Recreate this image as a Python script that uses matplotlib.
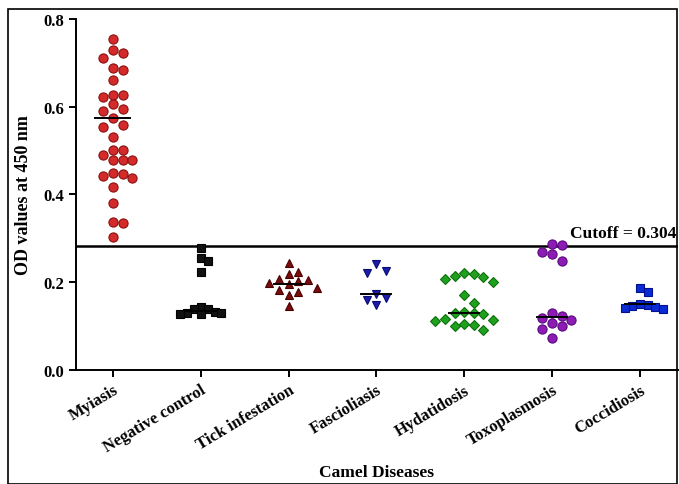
import numpy as np
import matplotlib.pyplot as plt
from matplotlib.patches import Rectangle

plt.rcParams['font.family'] = ['Liberation Serif', 'DejaVu Serif']
plt.rcParams['font.weight'] = 'bold'

diseases = ['Myiasis', 'Negative control', 'Tick infestation', 'Fascioliasis',
            'Hydatidosis', 'Toxoplasmosis', 'Coccidiosis']

myiasis = [0.754, 0.730, 0.722, 0.710, 0.688, 0.684, 0.661, 0.627, 0.622, 0.626,
           0.605, 0.595, 0.591, 0.575, 0.554, 0.559, 0.530, 0.501, 0.501, 0.490,
           0.479, 0.479, 0.479, 0.447, 0.438, 0.441, 0.449, 0.418, 0.380, 0.336,
           0.338, 0.304]
negative = [0.277, 0.256, 0.248, 0.223, 0.143, 0.140, 0.139, 0.133, 0.131, 0.129,
            0.128, 0.127]
tick = [0.243, 0.224, 0.219, 0.207, 0.205, 0.202, 0.199, 0.196, 0.186, 0.182,
        0.177, 0.170, 0.145]
fasciola = [0.242, 0.226, 0.222, 0.173, 0.165, 0.160, 0.148]
hydatid = [0.220, 0.218, 0.215, 0.212, 0.208, 0.200, 0.172, 0.153, 0.133, 0.131,
           0.130, 0.128, 0.117, 0.115, 0.112, 0.105, 0.103, 0.100, 0.092]
toxo = [0.287, 0.285, 0.270, 0.264, 0.248, 0.131, 0.122, 0.118, 0.115, 0.106,
        0.100, 0.093, 0.072]
cocci = [0.188, 0.178, 0.150, 0.148, 0.146, 0.144, 0.142, 0.140]

# group lines as drawn in the picture
medians = [0.575, 0.135, 0.196, 0.173, 0.131, 0.121, 0.150]

groups = [myiasis, negative, tick, fasciola, hydatid, toxo, cocci]
markers = ['o', 's', '^', 'v', 'D', 'o', 's']
faces = ['#d42a2a', '#111111', '#7a0c0c', '#1c1cae', '#1fa01f', '#8c1cb4', '#0a2ad2']
edges = ['#8a1010', '#000000', '#4a0000', '#0a0a70', '#0c700c', '#5a0a80', '#001090']
msizes = [6.6, 5.6, 6.2, 6.2, 5.0, 6.6, 5.6]
spread = [1.0, 0.72, 1.0, 1.0, 1.0, 1.0, 0.8]

cutoff_line = 0.283
cutoff_text = 'Cutoff = 0.304'

fig = plt.figure(figsize=(6.79, 4.85), dpi=100)
ax = fig.add_axes([0.112, 0.235, 0.886, 0.724])
ax.set_xlim(-0.42, 6.43)
ax.set_ylim(0, 0.8)

# pixels per unit, used to pack the points side by side
px_x = 88.0
px_y = 438.75


def swarm(vals, d=9.4, k_min=0.98):
    vals = np.asarray(vals)
    offs = np.zeros(len(vals))
    placed = []
    cand = [0]
    for k in range(1, 8):
        cand += [k, -k]
    for i in np.argsort(-vals):
        y = vals[i] * px_y
        for k in cand:
            x = k * d
            if all((x - a) ** 2 + (y - b) ** 2 >= (d * k_min) ** 2 for a, b in placed):
                break
        placed.append((x, y))
        offs[i] = x
    return offs / px_x


for i, vals in enumerate(groups):
    xs = i + swarm(vals, d=9.6 * spread[i])
    ax.plot(xs, vals, linestyle='none', marker=markers[i], ms=msizes[i],
            mfc=faces[i], mec=edges[i], mew=0.8, zorder=3)
    w = 0.2 if i == 0 else 0.17
    ax.plot([i - w, i + w], [medians[i], medians[i]], color='black', lw=1.4, zorder=4)

ax.axhline(cutoff_line, color='black', lw=1.8, zorder=2)
ax.text(6.41, cutoff_line + 0.012, cutoff_text, ha='right', va='bottom',
        fontsize=12.5, fontweight='bold')

ax.spines['top'].set_visible(False)
ax.spines['right'].set_visible(False)
ax.spines['left'].set_linewidth(1.4)
ax.spines['bottom'].set_linewidth(1.4)

ax.set_yticks([0.0, 0.2, 0.4, 0.6, 0.8])
ax.set_yticklabels(['0.0', '0.2', '0.4', '0.6', '0.8'], fontsize=12, fontweight='bold')
ax.set_xticks(range(len(diseases)))
ax.set_xticklabels(diseases, rotation=31, ha='right', rotation_mode='anchor',
                   fontsize=12, fontweight='bold')
ax.tick_params(axis='both', direction='out', length=5, width=1.4)
ax.set_ylabel('OD values at 450 nm', fontsize=13, fontweight='bold', labelpad=8)
ax.set_xlabel('Camel Diseases', fontsize=12.5, fontweight='bold', labelpad=6)

fig.patches.append(Rectangle((8 / 679, 0.0), 1 - 10 / 679, 1 - 10 / 485,
                             transform=fig.transFigure, fill=False,
                             edgecolor='black', lw=1.2))

fig.savefig('out.png', dpi=100)
